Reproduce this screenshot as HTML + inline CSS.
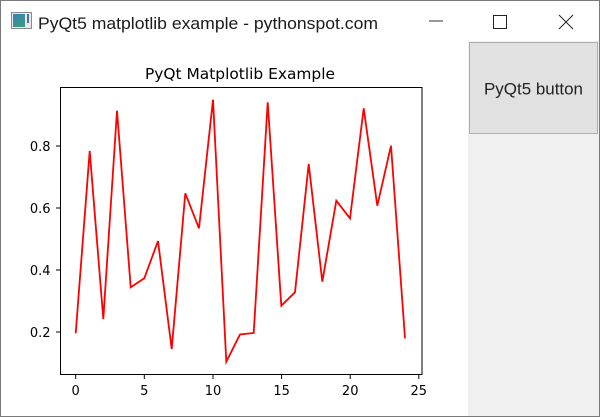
<!DOCTYPE html>
<html><head><meta charset="utf-8"><style>
html,body{margin:0;padding:0;background:#fff;}
svg{display:block;}
</style></head><body>
<svg width="600" height="417" viewBox="0 0 600 417" xmlns="http://www.w3.org/2000/svg">
<defs>
<linearGradient id="ig" x1="0" y1="0" x2="1" y2="1">
<stop offset="0" stop-color="#3a7fb8"/><stop offset="1" stop-color="#3aa07a"/>
</linearGradient>
</defs>
<rect x="0" y="0" width="600" height="417" fill="#ffffff"/>
<!-- right panel -->
<rect x="468" y="41" width="131" height="375" fill="#f0f0f0"/>
<!-- button -->
<rect x="469.5" y="42.5" width="128" height="91" fill="#e1e1e1" stroke="#adadad" stroke-width="1"/>
<text x="533.5" y="94.5" font-family="'Liberation Sans', sans-serif" font-size="17" fill="#222" text-anchor="middle" textLength="99" lengthAdjust="spacingAndGlyphs">PyQt5 button</text>
<!-- title bar -->
<rect x="11.5" y="12.5" width="20" height="16" fill="#e8e8e8" stroke="#8a8a8a" stroke-width="1"/>
<rect x="13" y="14" width="12" height="13" fill="url(#ig)"/>
<rect x="27" y="14" width="2" height="9" fill="#4a6fa0"/>
<text x="38" y="29" font-family="'Liberation Sans', sans-serif" font-size="16.5" fill="#1a1a1a" textLength="340" lengthAdjust="spacingAndGlyphs">PyQt5 matplotlib example - pythonspot.com</text>
<line x1="429" y1="21" x2="443" y2="21" stroke="#333" stroke-width="1"/>
<rect x="493.5" y="15.5" width="13" height="13" fill="none" stroke="#222" stroke-width="1"/>
<line x1="559" y1="15" x2="573" y2="29" stroke="#222" stroke-width="1"/>
<line x1="573" y1="15" x2="559" y2="29" stroke="#222" stroke-width="1"/>
<!-- chart title -->
<text x="240" y="79" font-family="'DejaVu Sans', sans-serif" font-size="15.5" fill="#000" text-anchor="middle" textLength="190" lengthAdjust="spacingAndGlyphs">PyQt Matplotlib Example</text>
<!-- data line -->
<polyline fill="none" stroke="#ff0000" stroke-width="1.8" stroke-linejoin="miter"
points="75.7,333.3 89.7,151 103.3,319 117,110.7 130.7,287.3 144.3,278.3 158,241 171.7,349 185.3,193.3 199,228.3 213,99.7 226.3,361.7 240,334.5 253.7,333 267.7,102.3 281.3,305.7 295,292.3 308.7,164 322.3,281.7 336.3,200.7 350,218.3 363.7,108.3 377.3,205.7 391,145.7 405,338.3"/>
<!-- axes frame -->
<rect x="60.5" y="87.5" width="361.5" height="287" fill="none" stroke="#000" stroke-width="1"/>
<!-- ticks -->
<g stroke="#000" stroke-width="1">
<line x1="56" y1="146" x2="60" y2="146"/>
<line x1="56" y1="208" x2="60" y2="208"/>
<line x1="56" y1="270" x2="60" y2="270"/>
<line x1="56" y1="332" x2="60" y2="332"/>
<line x1="75.7" y1="375" x2="75.7" y2="379"/>
<line x1="144.3" y1="375" x2="144.3" y2="379"/>
<line x1="213" y1="375" x2="213" y2="379"/>
<line x1="281.6" y1="375" x2="281.6" y2="379"/>
<line x1="350.2" y1="375" x2="350.2" y2="379"/>
<line x1="418.8" y1="375" x2="418.8" y2="379"/>
</g>
<g font-family="'DejaVu Sans', sans-serif" font-size="13" fill="#000" text-anchor="end">
<text x="50.5" y="150.8">0.8</text>
<text x="50.5" y="212.8">0.6</text>
<text x="50.5" y="274.8">0.4</text>
<text x="50.5" y="336.8">0.2</text>
</g>
<g font-family="'DejaVu Sans', sans-serif" font-size="13" fill="#000" text-anchor="middle">
<text x="75.7" y="395">0</text>
<text x="144.3" y="395">5</text>
<text x="213" y="395">10</text>
<text x="281.6" y="395">15</text>
<text x="350.2" y="395">20</text>
<text x="418.8" y="395">25</text>
</g>
<!-- window border -->
<rect x="0.5" y="0.5" width="599" height="416" fill="none" stroke="#7a7a7a" stroke-width="1"/>
</svg>
</body></html>
